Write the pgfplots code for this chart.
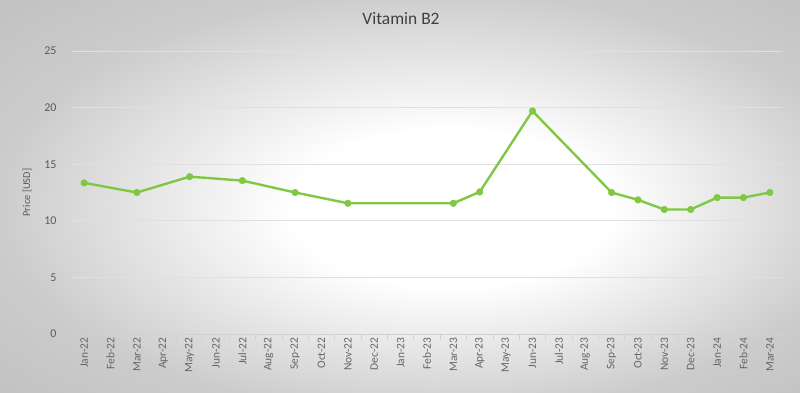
\documentclass[border=0pt]{standalone}
\usepackage{pgfplots}
\pgfplotsset{compat=1.18}
\usepackage{fontspec}
\setmainfont{Carlito}
\pgfdeclareradialshading{bgshade}{\pgfpoint{4bp}{-2bp}}{color(0bp)=(white); color(10bp)=(white); color(27bp)=(black!20); color(50bp)=(black!30)}
\definecolor{lgreen}{RGB}{128,200,68}
\begin{document}
\begin{tikzpicture}[x=1bp,y=1bp]
\useasboundingbox (0,0) rectangle (800,392);
\shade[shading=bgshade] (0,0) rectangle (800,392);
\node[text=black!75, font=\fontsize{17.5}{20}\selectfont] at (401,373) {Vitamin B2};
\begin{axis}[
  at={(72bp,58bp)}, anchor=south west,
  scale only axis, width=711bp, height=283bp,
  xmin=-0.46, xmax=26.5, ymin=0, ymax=25,
  ytick={0,5,...,25},
  xtick={0,...,26},
  xticklabels={Jan-22,Feb-22,Mar-22,Apr-22,May-22,Jun-22,Jul-22,Aug-22,Sep-22,Oct-22,Nov-22,Dec-22,Jan-23,Feb-23,Mar-23,Apr-23,May-23,Jun-23,Jul-23,Aug-23,Sep-23,Oct-23,Nov-23,Dec-23,Jan-24,Feb-24,Mar-24},
  minor xtick={-0.5,0.5,...,26.5},
  axis lines*=left,
  y axis line style={draw=none},
  x axis line style={black!18, line width=0.8pt},
  ymajorgrids,
  grid style={black!12, line width=0.8pt},
  major tick length=0pt,
  minor tick length=6bp,
  tick align=outside,
  minor tick style={black!18, line width=0.8pt},
  /pgf/number format/assume math mode=true,
  xticklabel style={rotate=90, anchor=east, font=\fontsize{11.5}{13}\selectfont, text=black!60, yshift=0bp},
  yticklabel style={font=\fontsize{12}{14}\selectfont, text=black!65, xshift=-12bp},
  ylabel={Price [USD]},
  ylabel style={at={(axis description cs:-0.052,0.5)}, font=\fontsize{10.5}{12}\selectfont, text=black!65},
  clip=false,
]
\addplot[lgreen, line width=2.4pt, mark=*, mark size=3.3pt, mark options={fill=lgreen, draw=lgreen, line width=0.5pt}] coordinates {
(0,13.35) (2,12.5) (4,13.9) (6,13.55) (8,12.5) (10,11.55) (14,11.55) (15,12.55) (17,19.7) (20,12.5) (21,11.85) (22,11.0) (23,11.0) (24,12.05) (25,12.05) (26,12.5)
};
\end{axis}
\end{tikzpicture}
\end{document}
